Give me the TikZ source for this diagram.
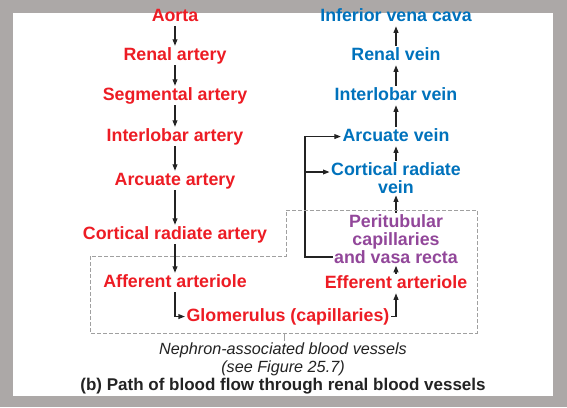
\documentclass[tikz,border=0pt]{standalone}
\usepackage{fontspec}
\setmainfont{Liberation Sans}
\usetikzlibrary{arrows.meta}
\definecolor{artred}{RGB}{237,28,36}
\definecolor{veinblue}{RGB}{0,114,188}
\definecolor{capviolet}{RGB}{146,71,154}
\definecolor{framegray}{RGB}{172,168,167}
\definecolor{flowgray}{RGB}{35,35,35}
\definecolor{boxgray}{RGB}{160,160,160}
\begin{document}
\begin{tikzpicture}[x=1pt,y=1pt,
    txt/.style={font=\fontsize{17.8}{18.4}\selectfont\bfseries, inner sep=1.5pt},
    lbl/.style={txt, text height=12.5pt, text depth=3.6pt, anchor=base},
    art/.style={lbl, text=artred},
    vein/.style={lbl, text=veinblue},
    multi/.style={txt, align=center, anchor=north},
    flow/.style={draw=flowgray, line width=1.2pt, -{Triangle[length=6.5pt,width=4.8pt]}},
    nephbox/.style={draw=boxgray, line width=1pt, dash pattern=on 4pt off 2pt}]
    % frame
    \fill[framegray] (0,0) rectangle (567,-407);
    \fill[white] (13,-13) rectangle (553,-396);
    % arteries
    \node[art] (aorta) at (175,-21) {Aorta};
    \node[art] (renart) at (175,-60) {Renal artery};
    \node[art] (segart) at (175,-100) {Segmental artery};
    \node[art] (ilobart) at (175,-141) {Interlobar artery};
    \node[art] (arcart) at (175,-185) {Arcuate artery};
    \node[art] (crart) at (175,-239) {Cortical radiate artery};
    \node[art] (affart) at (175,-287) {Afferent arteriole};
    \node[art] (glom) at (288,-321) {Glomerulus (capillaries)};
    \node[art] (effart) at (396,-288) {Efferent arteriole};
    % veins
    \node[vein] (ivc) at (396,-21) {Inferior vena cava};
    \node[vein] (renvein) at (396,-60) {Renal vein};
    \node[vein] (ilobvein) at (396,-100) {Interlobar vein};
    \node[vein] (arcvein) at (396,-141) {Arcuate vein};
    \node[multi, text=veinblue] (crvein) at (396,-160.5) {Cortical radiate\\vein};
    \node[multi, text=capviolet] (ptc) at (396,-212.5) {Peritubular\\capillaries\\and vasa recta};
    % flow
    \draw[flow] (aorta) -- (renart);
    \draw[flow] (renart) -- (segart);
    \draw[flow] (segart) -- (ilobart);
    \draw[flow] (ilobart) -- (arcart);
    \draw[flow] (arcart) -- (crart);
    \draw[flow] (crart) -- (affart);
    \draw[flow] (affart) |- (glom);
    \draw[flow] (glom) -| (effart);
    \draw[flow] (effart) -- (ptc);
    \draw[flow] (ptc) -- (crvein);
    \draw[flow] (crvein) -- (arcvein);
    \draw[flow] (arcvein) -- (ilobvein);
    \draw[flow] (ilobvein) -- (renvein);
    \draw[flow] (renvein) -- (ivc);
    % return from vasa recta
    \coordinate (ptcfoot) at (333,-257);
    \coordinate (bend) at (305,-257);
    \coordinate (crtap) at (305,-172);
    \draw[flow] (ptcfoot) -- (bend) |- (arcvein);
    \draw[flow] (crtap) -- (crtap -| crvein.west);
    % nephron box
    \draw[nephbox] (90,-256) -- (90,-333) -- (477,-333) -- (477,-210)
        -- (286,-210) -- (286,-256) -- cycle;
    \node[font=\fontsize{16.2}{18}\selectfont\itshape, text=flowgray, inner sep=1.5pt, anchor=base]
        (neph) at (283,-354) {Nephron-associated blood vessels};
    \node[font=\fontsize{16.2}{18}\selectfont\itshape, text=flowgray, inner sep=1.5pt, anchor=base]
        (seefig) at (283,-372) {(see Figure 25.7)};
    \coordinate (boxtick) at (284,-333);
    \draw[boxgray, line width=1pt] (boxtick) -- (boxtick |- neph.north);
    % caption
    \node[txt, font=\fontsize{17}{18}\selectfont\bfseries, text=flowgray, anchor=base] (title) at (283,-390)
        {(b) Path of blood flow through renal blood vessels};
\end{tikzpicture}
\end{document}
